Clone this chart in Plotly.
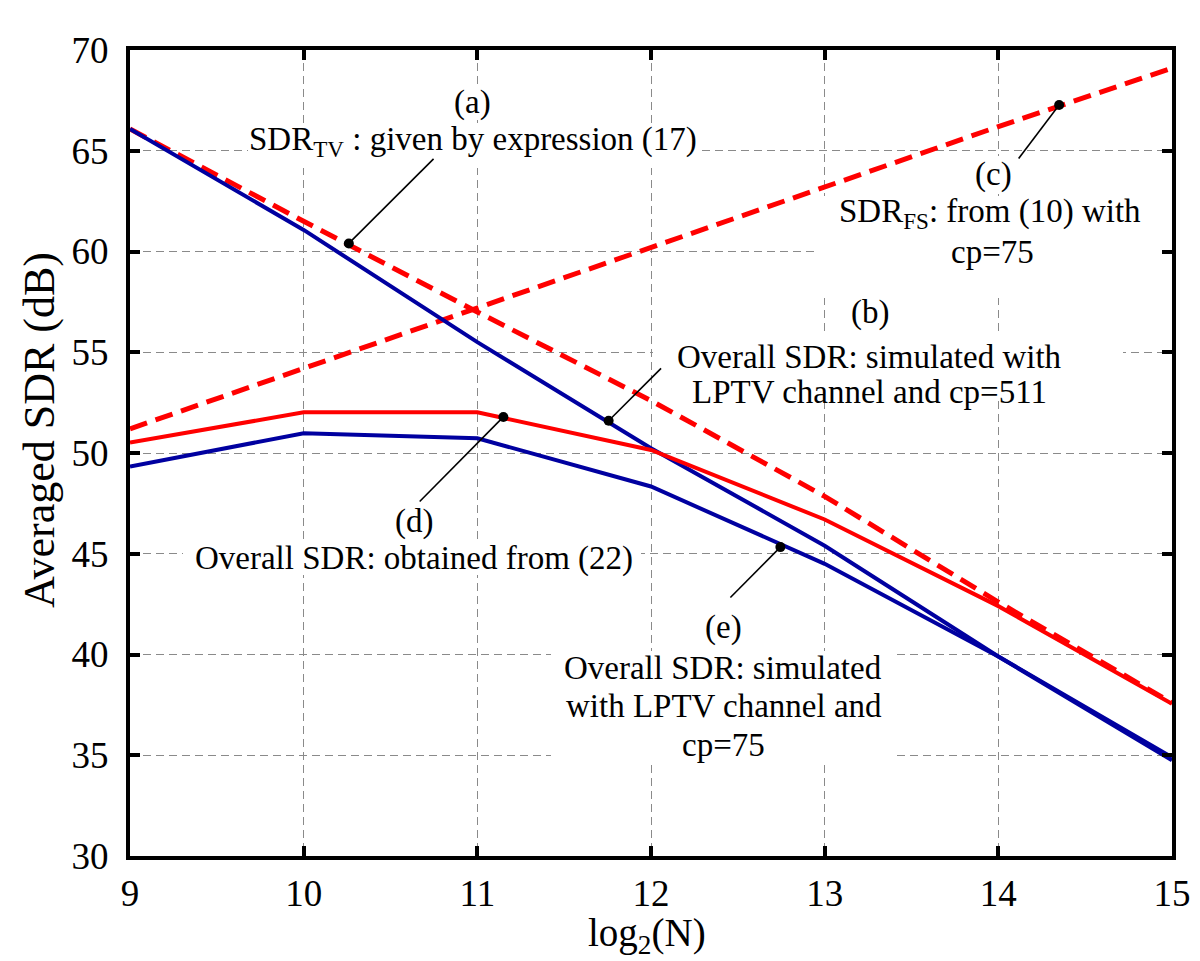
import plotly.graph_objects as go

# ---------------- data ----------------
log2N = [9, 10, 11, 12, 13, 14, 15]
sdr_tv = [66.08, 61.5, 57.0, 52.6, 47.85, 42.6, 37.6]        # (a) red dashed, expression (17)
sdr_fs = [51.2, 54.2, 57.2, 60.2, 63.2, 66.2, 69.1]          # (c) red dashed, from (10) cp=75
sim_cp511 = [66.08, 61.07, 55.5, 50.24, 45.4, 39.9, 34.75]   # (b) blue, simulated cp=511
overall_22 = [50.52, 52.02, 52.02, 50.15, 46.7, 42.4, 37.55]  # (d) red solid, from (22)
sim_cp75 = [49.33, 50.98, 50.73, 48.34, 44.5, 39.9, 34.9]     # (e) blue, simulated cp=75

# annotation markers (on curves) and leader-line ends
mark_x = [10.26, 11.756, 14.35, 11.15, 12.745]
mark_y = [60.4, 51.6, 67.27, 51.79, 45.33]
lead_x = [10.748, 12.058, 14.117, 10.668, 12.457]
lead_y = [64.6, 54.2, 64.62, 47.59, 42.83]

x_ticks = [9, 10, 11, 12, 13, 14, 15]
y_ticks = [30, 35, 40, 45, 50, 55, 60, 65, 70]

# ---------------- geometry helpers (plot area in pixels) ----------------
W, H = 1200, 961
L, R, T, B = 122, 1164, 42, 848
X0, X1, Y0, Y1 = 9, 15, 30, 70


def px2x(px):
    return X0 + (px - L) / (R - L) * (X1 - X0)


def px2y(py):
    return Y0 + (B - py) / (B - T) * (Y1 - Y0)


def px2paperx(px):
    return (px - L) / (R - L)


def px2papery(py):
    return (B - py) / (B - T)


RED = "#ff0000"
BLUE = "#0000a0"
FONT = "Liberation Serif"

fig = go.Figure()

fig.add_trace(go.Scatter(x=log2N, y=sim_cp75, mode="lines",
                         line=dict(color=BLUE, width=4), showlegend=False))
fig.add_trace(go.Scatter(x=log2N, y=sdr_fs, mode="lines",
                         line=dict(color=RED, width=5, dash="18px,9px"), showlegend=False))
fig.add_trace(go.Scatter(x=log2N, y=sdr_tv, mode="lines",
                         line=dict(color=RED, width=5, dash="18px,9px"), showlegend=False))
fig.add_trace(go.Scatter(x=log2N, y=sim_cp511, mode="lines",
                         line=dict(color=BLUE, width=4), showlegend=False))
fig.add_trace(go.Scatter(x=log2N, y=overall_22, mode="lines",
                         line=dict(color=RED, width=4), showlegend=False))

# leader lines
for mx, my, lx, ly in zip(mark_x, mark_y, lead_x, lead_y):
    fig.add_trace(go.Scatter(x=[mx, lx], y=[my, ly], mode="lines",
                             line=dict(color="black", width=1.6), showlegend=False))
fig.add_trace(go.Scatter(x=mark_x, y=mark_y, mode="markers",
                         marker=dict(color="black", size=10), showlegend=False))

# white text backgrounds (above grid, below curves)
boxes = [
    (440, 78, 490, 112), (240, 118, 692, 160),
    (838, 290, 886, 320), (645, 325, 1115, 390),
    (962, 148, 1008, 186), (808, 188, 1160, 290),
    (385, 500, 428, 531), (175, 533, 633, 567),
    (695, 601, 737, 638), (543, 643, 884, 757),
]
for x0, y0, x1, y1 in boxes:
    fig.add_shape(type="rect", xref="x", yref="y", layer="between",
                  x0=px2x(x0), x1=px2x(x1), y0=px2y(y1), y1=px2y(y0),
                  fillcolor="white", line=dict(width=0))

texts = [
    ("(a)", 464, 94),
    ("SDR<sub>TV</sub> : given by expression (17)", 465, 133),
    ("(b)", 862, 304),
    ("Overall SDR: simulated with", 861, 349),
    ("LPTV channel and cp=511", 861, 384),
    ("(c)", 985, 166),
    ("SDR<sub>FS</sub>: from (10) with", 982, 205),
    ("cp=75", 984, 244),
    ("(d)", 406, 513),
    ("Overall SDR: obtained from (22)", 406, 550),
    ("(e)", 715, 619),
    ("Overall SDR: simulated", 715, 660),
    ("with LPTV channel and", 716, 698),
    ("cp=75", 715, 737),
]
for t, px, py in texts:
    fig.add_annotation(text=t, x=px2x(px), y=px2y(py), xref="x", yref="y",
                       showarrow=False, xanchor="center", yanchor="middle",
                       font=dict(family=FONT, size=33, color="black"))

# axis titles
fig.add_annotation(text="log<sub>2</sub>(N)", x=px2paperx(639), y=px2papery(927),
                   xref="paper", yref="paper", showarrow=False,
                   xanchor="center", yanchor="middle",
                   font=dict(family=FONT, size=39, color="black"))
fig.add_annotation(text="Averaged SDR (dB)", x=px2paperx(31), y=px2papery(422),
                   xref="paper", yref="paper", showarrow=False, textangle=-90,
                   xanchor="center", yanchor="middle",
                   font=dict(family=FONT, size=44, color="black"))

axis_common = dict(
    showline=True, linewidth=4, linecolor="black", mirror="ticks",
    ticks="inside", ticklen=10, tickwidth=4, tickcolor="black",
    showgrid=True, gridcolor="#8a8a8a", gridwidth=1, griddash="8px,5px",
    zeroline=False, tickfont=dict(family=FONT, size=37, color="black"),
)

fig.update_xaxes(range=[X0, X1], tickvals=x_ticks, ticklabelstandoff=2, **axis_common)
fig.update_yaxes(range=[Y0, Y1], tickvals=y_ticks, ticklabelstandoff=10, **axis_common)

fig.update_layout(
    width=W, height=H,
    margin=dict(l=L, r=W - R, t=T, b=H - B, autoexpand=False),
    plot_bgcolor="white", paper_bgcolor="white",
)

fig.write_html("out.html")
